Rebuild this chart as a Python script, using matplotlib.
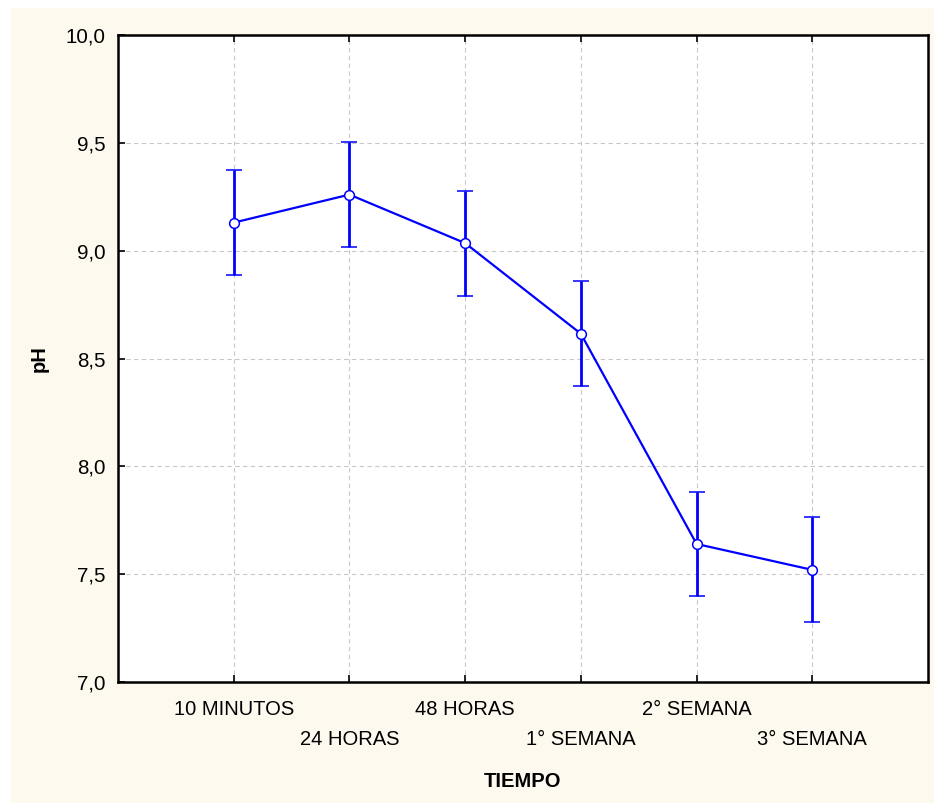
import matplotlib
matplotlib.use("Agg")
import matplotlib.pyplot as plt
from matplotlib.patches import Rectangle
from matplotlib.ticker import FuncFormatter

plt.rcParams['font.family'] = ['Liberation Sans', 'DejaVu Sans']

# pH over time (mean with error half-width)
categories = ["10 MINUTOS", "24 HORAS", "48 HORAS", "1° SEMANA", "2° SEMANA", "3° SEMANA"]
ph_mean = [9.13, 9.26, 9.035, 8.615, 7.64, 7.52]
ph_err = [0.243, 0.243, 0.243, 0.243, 0.243, 0.243]

W, H = 934, 805
fig = plt.figure(figsize=(W / 100, H / 100), dpi=100, facecolor='white')

# cream panel behind the chart
panel = Rectangle((11 / W, 1 - 803 / H), (934 - 11) / W, (803 - 8) / H,
                  transform=fig.transFigure, facecolor='#fdf9ef',
                  edgecolor='none', zorder=-10)
fig.add_artist(panel)

left, right, top, bottom = 118, 928, 35, 682
ax = fig.add_axes([left / W, 1 - bottom / H, (right - left) / W, (bottom - top) / H])
ax.set_zorder(1)
ax.set_facecolor('white')

x = list(range(len(categories)))
ax.errorbar(x, ph_mean, yerr=ph_err, color='#0000ff', lw=1.6, elinewidth=2,
            capsize=5.5, capthick=2, marker='o', markersize=7,
            markerfacecolor='white', markeredgecolor='#0000ff',
            markeredgewidth=1.1, zorder=3)

ax.set_xlim(-1, 6)
ax.set_ylim(7.0, 10.0)
ax.set_yticks([7.0, 7.5, 8.0, 8.5, 9.0, 9.5, 10.0])
ax.yaxis.set_major_formatter(FuncFormatter(lambda v, p: f"{v:.1f}".replace('.', ',')))
ax.set_xticks(x)
ax.set_xticklabels([c if i % 2 == 0 else "\n" + c for i, c in enumerate(categories)],
                   fontsize=14.5, linespacing=1.75)
ax.tick_params(axis='y', labelsize=14.8, direction='in', length=5, width=1.2,
               pad=9, colors='black')
ax.tick_params(axis='x', direction='in', length=5, width=1.2, pad=13,
               top=True, bottom=True)

ax.grid(True, color='#c8c8c8', linestyle=(0, (4, 3)), linewidth=0.8)
ax.set_axisbelow(True)

for side in ['left', 'bottom', 'top', 'right']:
    ax.spines[side].set_linewidth(1.8)
    ax.spines[side].set_color('black')

ax.set_xlabel("TIEMPO", fontsize=14.5, fontweight='bold', labelpad=16)
ax.set_ylabel("pH", fontsize=14.5, fontweight='bold', labelpad=12)

fig.savefig("out.png", dpi=100, facecolor='white')
